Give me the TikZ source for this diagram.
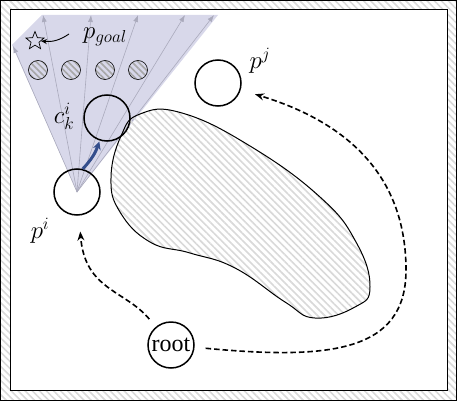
\documentclass[tikz,border=0pt]{standalone}
\usepackage{fontspec}
\newfontfamily\timesf{Liberation Serif}
\usetikzlibrary{patterns.meta,shapes.geometric,arrows.meta}
\definecolor{fanfill}{RGB}{216,216,234}
\definecolor{raycol}{RGB}{170,170,188}
\definecolor{bluearr}{RGB}{52,78,140}
\begin{document}
\begin{tikzpicture}[x=1pt,y=-1pt,
  hatchA/.style={pattern={Lines[angle=-45,distance=5pt,line width=1.6pt]},pattern color=gray!30},
  hatchB/.style={pattern={Lines[angle=-45,distance=4.5pt,line width=1.6pt]},pattern color=gray!70},
  bigc/.style={circle,draw,line width=1.5pt,minimum size=46pt,inner sep=0pt},
  smallc/.style={circle,draw,line width=0.6pt,minimum size=19pt,inner sep=0pt,hatchB},
  ray/.style={draw=raycol,line width=0.6pt,-{Latex[length=7pt,width=5pt]}},
  dpath/.style={dash pattern=on 5.5pt off 3pt,line width=1.6pt,-{Stealth[length=9pt,width=7pt]}},
  mlab/.style={font=\fontsize{24}{27}\selectfont,inner sep=0pt}
]
\useasboundingbox (0,0) rectangle (457,401);
% frame
\path[hatchA,even odd rule] (0.5,0.5) rectangle (456.5,400.5) (10,10) rectangle (447,390);
\draw[line width=0.8pt] (0.5,0.5) rectangle (456.5,400.5);
\draw[line width=1pt] (10,10) rectangle (447,390);
% fan
\coordinate (apex) at (77,192);
\fill[fanfill] (apex) -- (12,45) -- (42,15) -- (218,15) -- cycle;
\foreach \tx/\ty [count=\n] in {13/46,43/15,91/15,138/15,185/15,214/15}
  \coordinate (t\n) at (\tx,\ty);
\foreach \n in {1,...,6} \draw[ray] (apex) -- (t\n);
% small hatched circles
\node[smallc] (s1) at (38,70) {};
\node[smallc] (s2) at (71,70) {};
\node[smallc] (s3) at (105,70) {};
\node[smallc] (s4) at (138,70) {};
% star + goal
\node[star,star points=5,star point ratio=2.3,draw,line width=0.7pt,minimum size=19pt,inner sep=0pt] (goal) at (35,41) {};
\node[mlab] (pgoal) at (105,37) {$p_{goal}$};
\draw[line width=0.9pt,-{Stealth[length=6pt,width=5pt]}] (69,34) to[bend left=20] (goal.east);
% obstacle
\draw[hatchA,line width=1pt] plot[smooth cycle,tension=0.75] coordinates {
 (140,114) (182,113) (250,146) (320,197) (356,242) (370,287) (355,307) (315,318)
 (285,302) (235,268) (190,253) (150,242) (120,212) (111,178) (121,136)};
% main circles
\node[bigc] (pi) at (77,192) {};
\node[bigc] (ck) at (107,118) {};
\node[bigc] (pj) at (218,83) {};
\node[bigc,font=\timesf\fontsize{24}{26}\selectfont] (root) at (171,345) {root};
% labels
\node[mlab] (lpi) at (40,231) {$p^{i}$};
\node[mlab] (lpj) at (260,61) {$p^{j}$};
\node[mlab] (lck) at (64,116) {$c_{k}^{i}$};
% blue arrow
\draw[bluearr,line width=3pt,-{Stealth[length=8pt,width=8pt]},shorten >=1pt] (pi.76) to[bend right=12] (ck.252);
% dashed paths
\draw[dpath,shorten <=10pt,shorten >=16pt] (root) .. controls (125,290) and (85,290) .. (pi);
\draw[dpath,shorten <=11pt,shorten >=15pt] (root) .. controls (330,360) and (406,352) .. (406,270) .. controls (406,170) and (340,120) .. (pj);
\end{tikzpicture}
\end{document}
